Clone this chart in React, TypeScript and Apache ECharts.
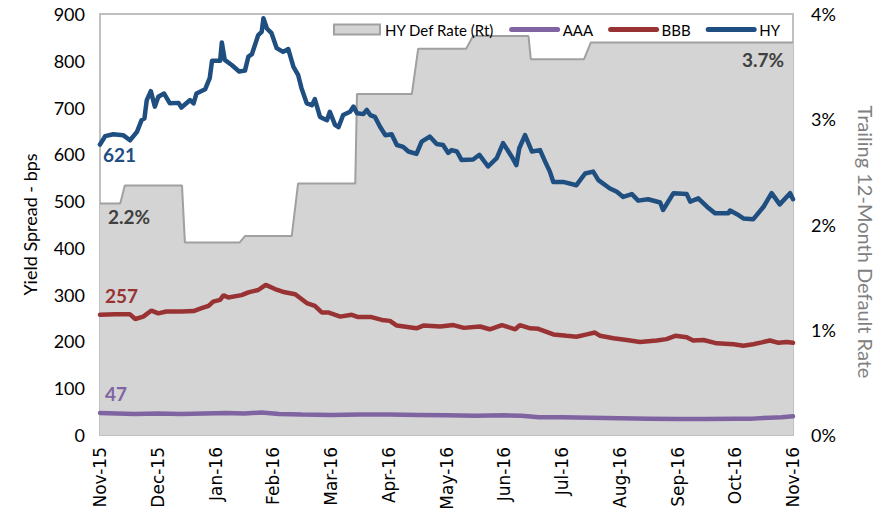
import React, { useEffect, useRef } from "react";
import * as echarts from "echarts";

const months = ["Nov-15", "Dec-15", "Jan-16", "Feb-16", "Mar-16", "Apr-16", "May-16", "Jun-16", "Jul-16", "Aug-16", "Sep-16", "Oct-16", "Nov-16"];

// x = months since Nov-15, y = spread in bps
const hy: number[][] = [
  [0, 621], [0.09, 639], [0.23, 643], [0.4, 641], [0.52, 630], [0.64, 648], [0.72, 673], [0.77, 677], [0.81, 716], [0.88, 735],
  [0.95, 702], [1.01, 723], [1.11, 730], [1.21, 709], [1.36, 710], [1.41, 700], [1.56, 716], [1.62, 709], [1.67, 730], [1.82, 739],
  [1.9, 763], [1.94, 800], [2.08, 800], [2.11, 839], [2.16, 802], [2.28, 791], [2.41, 777], [2.51, 779], [2.57, 809], [2.63, 814],
  [2.74, 855], [2.8, 862], [2.83, 891], [2.89, 869], [2.97, 859], [3.06, 827], [3.17, 819], [3.26, 825], [3.35, 787], [3.43, 770],
  [3.49, 741], [3.58, 709], [3.67, 705], [3.72, 718], [3.81, 680], [3.93, 673], [3.98, 691], [4.07, 663], [4.13, 658], [4.21, 684],
  [4.33, 691], [4.39, 702], [4.45, 688], [4.56, 686], [4.62, 695], [4.68, 684], [4.76, 680], [4.85, 659], [4.94, 641], [5.05, 643],
  [5.14, 620], [5.25, 616], [5.34, 606], [5.48, 601], [5.57, 627], [5.71, 638], [5.83, 622], [5.94, 620], [6.03, 603], [6.09, 609],
  [6.18, 606], [6.26, 588], [6.46, 589], [6.57, 599], [6.72, 574], [6.87, 592], [6.98, 624], [7.13, 595], [7.21, 577], [7.26, 613],
  [7.36, 641], [7.48, 606], [7.62, 609], [7.71, 584], [7.79, 563], [7.85, 541], [8.02, 541], [8.25, 534], [8.4, 559], [8.54, 563],
  [8.63, 545], [8.83, 527], [8.95, 520], [9.06, 509], [9.21, 515], [9.32, 501], [9.49, 504], [9.7, 497], [9.75, 481], [9.93, 517],
  [10.16, 515], [10.22, 499], [10.36, 506], [10.51, 488], [10.65, 474], [10.88, 474], [10.91, 480], [11.03, 472], [11.14, 463], [11.31, 461],
  [11.49, 488], [11.63, 517], [11.77, 493], [11.95, 517], [12, 504],
];

const bbb: number[][] = [
  [0, 257], [0.26, 258], [0.52, 258], [0.61, 248], [0.75, 253], [0.89, 266], [1.01, 260], [1.15, 264], [1.41, 264], [1.62, 265],
  [1.76, 271], [1.88, 276], [1.96, 285], [2.08, 289], [2.14, 299], [2.22, 294], [2.45, 299], [2.57, 305], [2.74, 310], [2.87, 321],
  [3.03, 312], [3.2, 305], [3.38, 301], [3.58, 282], [3.72, 276], [3.84, 262], [3.95, 262], [4.16, 253], [4.36, 257], [4.47, 252],
  [4.7, 252], [4.88, 246], [5.02, 244], [5.14, 234], [5.48, 228], [5.6, 234], [5.89, 232], [6.12, 235], [6.3, 229], [6.58, 232],
  [6.75, 226], [6.96, 235], [7.19, 226], [7.27, 235], [7.45, 228], [7.59, 227], [7.85, 215], [8.08, 212], [8.25, 210], [8.43, 215],
  [8.57, 219], [8.66, 212], [8.89, 207], [9.12, 203], [9.35, 199], [9.64, 202], [9.81, 205], [9.96, 212], [10.16, 209], [10.27, 202],
  [10.45, 203], [10.68, 196], [10.97, 194], [11.14, 191], [11.31, 194], [11.46, 198], [11.6, 202], [11.75, 197], [11.89, 199], [12, 197],
];

const aaa: number[][] = [
  [0, 47], [0.3, 46], [0.6, 45], [1, 46], [1.4, 45], [1.8, 46], [2.2, 47], [2.5, 46], [2.8, 48], [3.1, 45],
  [3.5, 44], [4, 43], [4.5, 44], [5, 44], [5.5, 43], [6, 42], [6.5, 41], [7, 42], [7.3, 41], [7.6, 38],
  [8, 38], [8.5, 37], [9, 36], [9.5, 35], [10, 34], [10.5, 34], [11, 35], [11.3, 35], [11.6, 37], [11.8, 38], [12, 40],
];

// x = months since Nov-15, y = trailing 12m default rate in %
const defRate: number[][] = [
  [0, 2.2], [0.35, 2.2], [0.43, 2.37], [1.42, 2.37], [1.47, 1.83], [2.42, 1.83], [2.51, 1.89], [3.32, 1.89], [3.43, 2.39],
  [4.42, 2.39], [4.45, 3.24], [5.4, 3.24], [5.51, 3.67], [6.34, 3.67], [6.46, 3.79], [7.42, 3.79], [7.46, 3.57], [8.38, 3.57],
  [8.5, 3.73], [12, 3.73],
];

const leftTicks = { min: 0, max: 900, interval: 100 };
const rightTicks = { min: 0, max: 4, interval: 1 };

const FONT = "Lato, 'Open Sans', sans-serif";
const C_HY = "#1f4e80";
const C_BBB = "#993333";
const C_AAA = "#8064a2";
const C_AREA = "#d4d4d4";
const C_AREA_LINE = "#a0a0a0";
const LW = 4.5;

function labelled(arr: number[][], label: any, idx: number) {
  return arr.map((p, i) =>
    i === idx
      ? { value: p, symbol: "circle", symbolSize: 0.1, label: { show: true, ...label } }
      : { value: p }
  );
}

export default function App() {
  const ref = useRef<HTMLDivElement>(null);
  useEffect(() => {
    if (!ref.current) return;
    const chart = echarts.init(ref.current, undefined, { renderer: "svg" });
    const dataLabel = { fontFamily: FONT, fontSize: 19, fontWeight: "bold" as const };
    const legendLine = (c: string) => ({ itemStyle: { opacity: 0 }, lineStyle: { color: c, width: 5, cap: "round" } });
    chart.setOption({
      animation: false,
      backgroundColor: "#ffffff",
      textStyle: { fontFamily: FONT },
      grid: { left: 100, right: 100, top: 14, bottom: 81, show: true, borderColor: "#c0c0c0", borderWidth: 2, backgroundColor: "transparent" },
      legend: {
        right: 108,
        top: 17,
        itemWidth: 46,
        itemHeight: 10,
        itemGap: 15,
        textStyle: { fontFamily: FONT, fontSize: 15, color: "#000" },
        data: [
          { name: "HY Def Rate (Rt)", icon: "rect", itemStyle: { color: C_AREA, borderColor: C_AREA_LINE, borderWidth: 2 } },
          { name: "AAA", ...legendLine(C_AAA) },
          { name: "BBB", ...legendLine(C_BBB) },
          { name: "HY", ...legendLine(C_HY) },
        ],
      },
      xAxis: {
        type: "value",
        min: 0,
        max: 12,
        interval: 1,
        axisLine: { show: false },
        axisTick: { show: false },
        splitLine: { show: false },
        axisLabel: {
          rotate: 90,
          margin: 12,
          fontFamily: "'DejaVu Sans', sans-serif",
          fontSize: 17,
          color: "#000",
          formatter: (v: number) => months[Math.round(v)] ?? "",
        },
      },
      yAxis: [
        {
          type: "value",
          ...leftTicks,
          name: "Yield Spread - bps",
          nameLocation: "middle",
          nameGap: 61,
          nameRotate: 90,
          nameTextStyle: { fontFamily: FONT, fontSize: 18, color: "#000" },
          axisLine: { show: false },
          axisTick: { show: false },
          splitLine: { show: false },
          axisLabel: { fontFamily: FONT, fontSize: 18, color: "#000", margin: 15 },
        },
        {
          type: "value",
          ...rightTicks,
          position: "right",
          axisLine: { show: false },
          axisTick: { show: false },
          splitLine: { show: false },
          axisLabel: { fontFamily: FONT, fontSize: 18, color: "#000", margin: 18, formatter: "{value}%" },
        },
      ],
      graphic: [
        {
          type: "text",
          x: 866,
          y: 242,
          rotation: -Math.PI / 2,
          style: {
            text: "Trailing 12-Month Default Rate",
            fill: "#808080",
            font: `20px ${FONT}`,
            textAlign: "center",
            textVerticalAlign: "middle",
          },
        },
      ],
      series: [
        {
          name: "HY Def Rate (Rt)",
          type: "line",
          yAxisIndex: 1,
          symbol: "none",
          z: 1,
          lineStyle: { color: C_AREA_LINE, width: 2 },
          itemStyle: { color: C_AREA },
          areaStyle: { color: C_AREA, opacity: 1 },
          data: defRate.map((p, i) =>
            i === 0
              ? { value: p, symbol: "circle", symbolSize: 0.1, label: { show: true, ...dataLabel, color: "#404040", formatter: "2.2%", position: [8, 4] } }
              : i === defRate.length - 1
              ? { value: p, symbol: "circle", symbolSize: 0.1, label: { show: true, ...dataLabel, color: "#404040", formatter: "3.7%", position: [-51, 8] } }
              : { value: p }
          ),
        },
        {
          name: "AAA",
          type: "line",
          symbol: "none",
          z: 3,
          lineStyle: { color: C_AAA, width: LW, cap: "round" },
          itemStyle: { color: C_AAA },
          data: labelled(aaa, { ...dataLabel, color: C_AAA, formatter: "{@[1]}", position: [5, -29] }, 0),
        },
        {
          name: "BBB",
          type: "line",
          symbol: "none",
          z: 3,
          lineStyle: { color: C_BBB, width: LW, cap: "round" },
          itemStyle: { color: C_BBB },
          data: labelled(bbb, { ...dataLabel, color: C_BBB, formatter: "{@[1]}", position: [5, -29] }, 0),
        },
        {
          name: "HY",
          type: "line",
          symbol: "none",
          z: 3,
          lineStyle: { color: C_HY, width: LW, cap: "round", join: "round" },
          itemStyle: { color: C_HY },
          data: labelled(hy, { ...dataLabel, color: C_HY, formatter: "{@[1]}", position: [3, 1] }, 0),
        },
      ],
    });
    return () => chart.dispose();
  }, []);
  return <div ref={ref} style={{ position: "absolute", left: 0, top: 0, width: 893, height: 516 }} />;
}
